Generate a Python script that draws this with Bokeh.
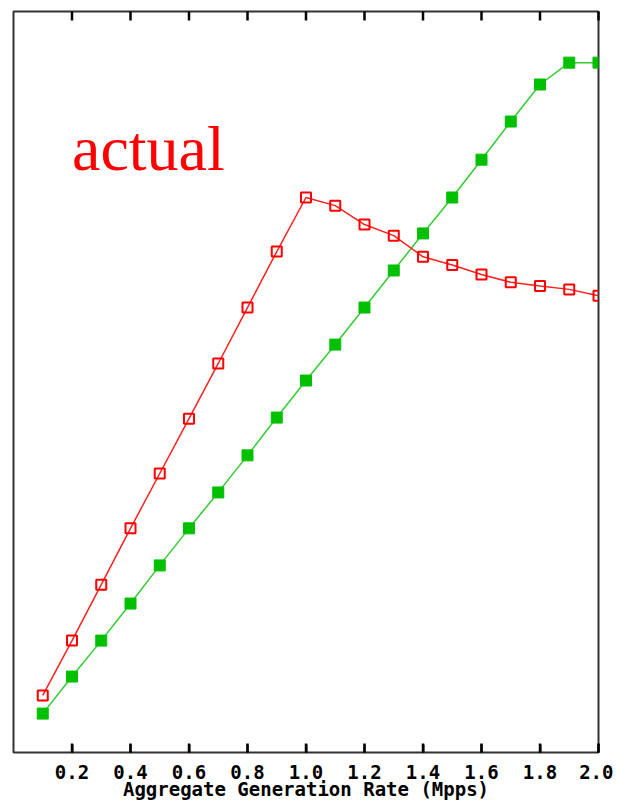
from bokeh.plotting import figure
from bokeh.models import FixedTicker, PrintfTickFormatter, Range1d, Label, LinearAxis
from bokeh.embed import file_html
from bokeh.resources import INLINE

# Data (y in Mpps)
rate = [0.1, 0.2, 0.3, 0.4, 0.5, 0.6, 0.7, 0.8, 0.9, 1.0,
        1.1, 1.2, 1.3, 1.4, 1.5, 1.6, 1.7, 1.8, 1.9, 2.0]
actual = [0.154, 0.302, 0.453, 0.605, 0.753, 0.901, 1.050, 1.201, 1.352, 1.498,
          1.476, 1.425, 1.395, 1.338, 1.316, 1.290, 1.269, 1.259, 1.250, 1.233]
ideal = [0.105, 0.205, 0.302, 0.402, 0.505, 0.605, 0.702, 0.802, 0.904, 1.004,
         1.101, 1.201, 1.301, 1.401, 1.498, 1.600, 1.703, 1.803, 1.862, 1.862]
x_ticks = [0.2, 0.4, 0.6, 0.8, 1.0, 1.2, 1.4, 1.6, 1.8, 2.0]
x_title = "Aggregate Generation Rate (Mpps)"
label_text = "actual"
y_lo, y_hi = 0.0, 2.0

FRAME_H = 741
TICK_PX = 9
tick_len = (y_hi - y_lo) * TICK_PX / FRAME_H

p = figure(frame_width=585, frame_height=FRAME_H, output_backend="svg",
           toolbar_location=None, x_range=Range1d(0, 2.0), y_range=Range1d(y_lo, y_hi),
           min_border_left=13, min_border_top=11, min_border_right=15, min_border_bottom=0)
p.background_fill_color = "white"
p.border_fill_color = "white"
p.outline_line_color = "#333333"
p.outline_line_width = 2
p.xgrid.visible = False
p.ygrid.visible = False
p.yaxis.visible = False

xa = p.xaxis[0]
xa.ticker = FixedTicker(ticks=x_ticks)
xa.formatter = PrintfTickFormatter(format="%.1f")
xa.major_tick_in = 8
xa.major_tick_out = 0
xa.minor_tick_line_color = None
xa.major_tick_line_color = "black"
xa.major_tick_line_width = 2
xa.axis_line_color = None
xa.major_label_text_font = "DejaVu Sans Mono"
xa.major_label_text_font_style = "bold"
xa.major_label_text_font_size = "19px"
xa.major_label_text_color = "black"
xa.major_label_standoff = 12
xa.axis_label = x_title
xa.axis_label_text_font = "DejaVu Sans Mono"
xa.axis_label_text_font_style = "bold"
xa.axis_label_text_font_size = "19px"
xa.axis_label_text_color = "black"
xa.axis_label_standoff = -4

# inward tick marks at bottom and top of frame
n = len(x_ticks)
p.segment(x0=x_ticks, y0=[y_lo] * n, x1=x_ticks, y1=[y_lo + tick_len] * n,
          line_color="black", line_width=2.5, level="overlay")
p.segment(x0=x_ticks, y0=[y_hi] * n, x1=x_ticks, y1=[y_hi - tick_len] * n,
          line_color="black", line_width=2.5, level="overlay")

p.line(rate, ideal, line_color="#33cc33", line_width=1.5)
p.scatter(rate, ideal, marker="square", size=11, fill_color="#00c000",
          line_color="#00c000")
p.line(rate, actual, line_color="#ff2020", line_width=1.5)
p.scatter(rate, actual, marker="square", size=10, fill_alpha=0,
          line_color="#ff0000", line_width=2)

p.add_layout(Label(x=0.2, y=1.63, text=label_text, text_font="Liberation Serif",
                   text_font_size="64px", text_color="#ff0000",
                   text_baseline="alphabetic", text_align="left"))

open("out.html", "w").write(file_html(p, INLINE))
